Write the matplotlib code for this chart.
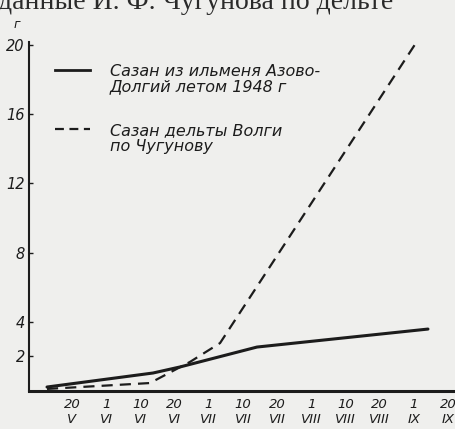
import matplotlib
matplotlib.use("Agg")
import matplotlib.pyplot as plt
from matplotlib.lines import Line2D

# ---- data ----
tick_days = ["20", "1", "10", "20", "1", "10", "20", "1", "10", "20", "1", "20"]
tick_months = ["V", "VI", "VI", "VI", "VII", "VII", "VII", "VIII", "VIII", "VIII", "IX", "IX"]
y_ticks = [2, 4, 8, 12, 16, 20]

# positions in units of tick slots (0 = "20 V")
azov_x = [-0.73, 2.37, 3.16, 5.41, 10.41]
azov_y = [0.23, 1.04, 1.39, 2.54, 3.58]
volga_x = [-0.73, 2.28, 3.45, 4.33, 10.12]
volga_y = [0.12, 0.46, 1.68, 2.77, 20.3]

label_azov = ["Сазан из ильменя Азово-", "Долгий летом 1948 г"]
label_volga = ["Сазан дельты Волги", "по Чугунову"]
header = "данные И. Ф. Чугунова по дельте"

BG = "#efefed"
INK = "#1c1c1c"
W, H = 456, 429

fig = plt.figure(figsize=(W / 100, H / 100), dpi=100, facecolor=BG)
ax = fig.add_axes([29 / W, (H - 391) / H, 1 - 29 / W, 349.5 / H])
ax.set_facecolor(BG)

ax.plot(azov_x, azov_y, color=INK, lw=2.2, solid_capstyle="round", clip_on=False)
ax.plot(volga_x, volga_y, color=INK, lw=1.6, dashes=(5, 3.2), clip_on=False)

ax.set_xlim(-1.257, 11.23)
ax.set_ylim(0, 20.2)

for s in ("top", "right"):
    ax.spines[s].set_visible(False)
ax.spines["left"].set_linewidth(1.5)
ax.spines["bottom"].set_linewidth(2.2)
ax.spines["left"].set_color(INK)
ax.spines["bottom"].set_color(INK)

tfont = dict(family=["DejaVu Sans"], style="italic", color=INK)
ax.set_yticks(y_ticks)
ax.set_yticklabels([str(v) for v in y_ticks], fontsize=10.5, **tfont)
ax.tick_params(axis="y", direction="in", length=3, width=1, pad=3, colors=INK)

ax.set_xticks(range(len(tick_days)))
ax.set_xticklabels([f"{d}\n{m}" for d, m in zip(tick_days, tick_months)],
                   fontsize=9.5, linespacing=1.2, **tfont)
ax.tick_params(axis="x", length=0, pad=5)

# unit label
fig.text(17 / W, 1 - 24 / H, "г", fontsize=9, ha="center", va="center", **tfont)

# legend drawn manually
def legend_entry(y_px, lines, ls):
    fig.add_artist(Line2D([55 / W, 90 / W], [1 - y_px / H] * 2, color=INK,
                          lw=2.0 if ls == "-" else 1.6,
                          dashes=(4, 2.5) if ls == "--" else (None, None),
                          transform=fig.transFigure))
    for i, t in enumerate(lines):
        fig.text(110 / W, 1 - (y_px + 2 + 15 * i) / H, t, fontsize=11.5,
                 ha="left", va="center", **tfont)

legend_entry(70, label_azov, "-")
legend_entry(129, label_volga, "--")

# header text of the book page, cut by the top edge as in the scan
fig.text(-2 / W, 1 - 9 / H, header, fontsize=20, family=["Liberation Serif"],
         color="#2a2a2a", ha="left", va="baseline")

fig.savefig("out.png", dpi=100, facecolor=BG)
